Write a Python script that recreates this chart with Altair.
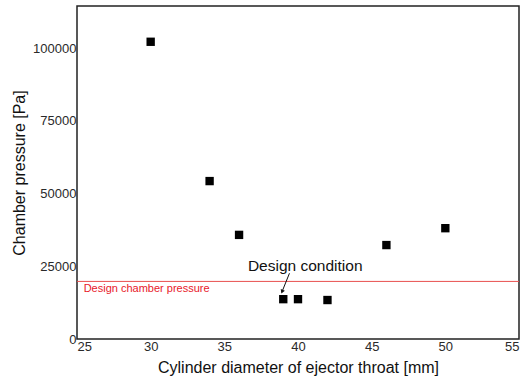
import altair as alt
import pandas as pd

diam = [30, 34, 36, 39, 40, 42, 46, 50]
pressure = [102200, 54300, 35800, 13700, 13700, 13400, 32300, 38100]
design_pressure = 19800

arrow_x = [39.42, 38.92]
arrow_y = [22600, 16300]

df = pd.DataFrame({"d": diam, "p": pressure})
font = "Liberation Sans"

xs = alt.Scale(domain=[25, 55], nice=False, zero=False)
ys = alt.Scale(domain=[0, 114500], nice=False)

xax = alt.Axis(values=[25, 30, 35, 40, 45, 50, 55], grid=False, ticks=False, domain=False, format="d",
               labelFont=font, labelFontSize=13, labelColor="#2a2a2a", labelPadding=1,
               title="Cylinder diameter of ejector throat [mm]", titleFont=font, titleFontSize=16,
               titleFontWeight="normal", titleColor="#111", titlePadding=6)
yax = alt.Axis(values=[0, 25000, 50000, 75000, 100000], grid=False, ticks=False, domain=False, format="d",
               labelFont=font, labelFontSize=13, labelColor="#2a2a2a", labelPadding=1,
               title="Chamber pressure [Pa]", titleFont=font, titleFontSize=16,
               titleFontWeight="normal", titleColor="#111", titlePadding=5)

pts = alt.Chart(df).mark_square(size=70, color="black", opacity=1).encode(
    x=alt.X("d:Q", scale=xs, axis=xax),
    y=alt.Y("p:Q", scale=ys, axis=yax),
)

hline = alt.Chart(pd.DataFrame({"y": [design_pressure]})).mark_rule(color="#e8504f", strokeWidth=1).encode(
    y=alt.Y("y:Q", scale=ys), x=alt.value(0), x2=alt.value(442)
)

hlabel = alt.Chart(pd.DataFrame({"x": [25.45], "y": [design_pressure], "t": ["Design chamber pressure"]})).mark_text(
    align="left", baseline="top", dy=2, font=font, fontSize=11, color="#e8202a"
).encode(x=alt.X("x:Q", scale=xs), y=alt.Y("y:Q", scale=ys), text="t:N")

clabel = alt.Chart(pd.DataFrame({"x": [36.6], "y": [23400], "t": ["Design condition"]})).mark_text(
    align="left", baseline="alphabetic", font=font, fontSize=15.5, color="#111"
).encode(x=alt.X("x:Q", scale=xs), y=alt.Y("y:Q", scale=ys), text="t:N")

adf = pd.DataFrame({"x": arrow_x, "y": arrow_y, "o": [0, 1]})
aline = alt.Chart(adf).mark_line(color="#111", strokeWidth=1).encode(
    x=alt.X("x:Q", scale=xs), y=alt.Y("y:Q", scale=ys), order="o:Q")
ahead = alt.Chart(adf.iloc[[1]]).mark_point(shape="triangle-up", filled=True, size=20, color="#111",
                                            angle=202, opacity=1).encode(
    x=alt.X("x:Q", scale=xs), y=alt.Y("y:Q", scale=ys))

chart = alt.layer(hline, hlabel, clabel, aline, ahead, pts).properties(
    width=442, height=333,
    autosize=alt.AutoSizeParams(type="none"),
    padding={"left": 77, "top": 6, "right": 13, "bottom": 41},
    background="white",
).configure_view(stroke="#222", strokeWidth=1.5)

chart.save("out.html", embed_options={"renderer": "svg", "actions": False})
